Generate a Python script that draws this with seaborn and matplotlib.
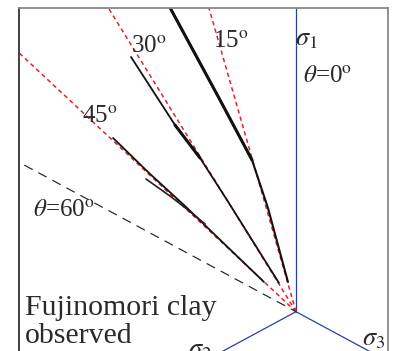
import numpy as np
import pandas as pd
import matplotlib
matplotlib.use("Agg")
import matplotlib.pyplot as plt
import seaborn as sns

# ---- data (deviatoric-plane coordinates, origin = hydrostatic axis) ----
theta_ref_red = [15, 30, 45]      # reference directions (red dashed)
theta_ref_black = [60]            # reference direction (black dashed)
theta_labels = ["15", "30", "45"]

# observed stress paths (Fujinomori clay)
path_a_x = [-1.196, -0.710, -0.411, -0.262, -0.075]
path_a_y = [3.077, 2.117, 1.517, 1.037, 0.297]
path_b_x = [-1.542, -1.131, -0.897, -0.645, -0.159]
path_b_y = [2.547, 1.867, 1.537, 1.117, 0.287]
path_c_x = [-1.710, -1.364, -1.037, -0.785, -0.523, -0.299]
path_c_y = [1.737, 1.377, 1.057, 0.797, 0.527, 0.297]
path_d_x = [-1.402, -1.178, -1.009, -0.850]
path_d_y = [1.327, 1.157, 1.017, 0.877]

sns.set_style("white")
plt.rcParams["font.family"] = ["Liberation Serif", "DejaVu Serif"]
plt.rcParams["mathtext.fontset"] = "stix"

fig = plt.figure(figsize=(3.96, 3.51), dpi=100)
ax = fig.add_axes([19 / 396, 0, (388 - 19) / 396, (351 - 8) / 351])
ax.set_xlim(-277 / 107, 92 / 107)
ax.set_ylim(-39.3 / 100, 303.7 / 100)


def P(px, py):
    return (px - 296) / 107, (311.7 - py) / 100


R = 5.0
blue = "#2b3f9e"
# principal stress axes
for ang in [90, 210, 330]:
    a = np.deg2rad(ang)
    sns.lineplot(x=[0, R * np.cos(a)], y=[0, R * np.sin(a)], sort=False,
                 estimator=None, color=blue, lw=0.9, ax=ax)

# reference lines
for th in theta_ref_red:
    t = np.deg2rad(th)
    sns.lineplot(x=[0, -R * np.sin(t)], y=[0, R * np.cos(t)], sort=False,
                 estimator=None, color="#e8202a", lw=1.1,
                 linestyle=(0, (2.8, 2.2)), ax=ax)
for th in theta_ref_black:
    t = np.deg2rad(th)
    sns.lineplot(x=[0, -R * np.sin(t)], y=[0, R * np.cos(t)], sort=False,
                 estimator=None, color="#222222", lw=0.85,
                 linestyle=(3, (8, 5.5)), ax=ax)

# observed paths
sns.lineplot(x=path_a_x, y=path_a_y, sort=False, estimator=None,
             color="#111111", lw=1.5, ax=ax)
sns.lineplot(x=path_a_x[:3], y=path_a_y[:3], sort=False, estimator=None,
             color="#111111", lw=2.2, ax=ax)
sns.lineplot(x=path_b_x, y=path_b_y, sort=False, estimator=None,
             color="#111111", lw=1.3, ax=ax)
sns.lineplot(x=path_b_x[1:3], y=path_b_y[1:3], sort=False, estimator=None,
             color="#111111", lw=2.2, ax=ax)
sns.lineplot(x=path_c_x, y=path_c_y, sort=False, estimator=None,
             color="#111111", lw=1.3, ax=ax)
sns.lineplot(x=path_d_x, y=path_d_y, sort=False, estimator=None,
             color="#222222", lw=1.2, ax=ax)

# spines
ax.spines["bottom"].set_visible(False)
ax.spines["left"].set_color("#333333")
ax.spines["left"].set_linewidth(1.3)
for s in ["top", "right"]:
    ax.spines[s].set_color("#888888")
    ax.spines[s].set_linewidth(1.3)
ax.set_xticks([])
ax.set_yticks([])
ax.set_xlabel("")
ax.set_ylabel("")

tc = "#2a2a2a"
fs = 18
def T(px, py, s, size=fs):
    x, y = P(px, py)
    ax.text(x, y, s, fontsize=size, color=tc, ha="left", va="baseline",
            clip_on=False)

T(131, 53, theta_labels[1] + r"$^{\rm o}$")
T(213, 48, theta_labels[0] + r"$^{\rm o}$")
T(82, 123, theta_labels[2] + r"$^{\rm o}$")
T(33, 217, r"$\theta$=60$^{\rm o}$")
T(295, 45, r"$\sigma_1$", 19)
T(303, 83, r"$\theta$=0$^{\rm o}$")
T(362, 345, r"$\sigma_3$", 19)
T(188, 356, r"$\sigma_2$", 19)
T(25, 315, "Fujinomori clay", 21.5)
T(25, 343, "observed", 21.5)

fig.savefig("out.png", dpi=100)
